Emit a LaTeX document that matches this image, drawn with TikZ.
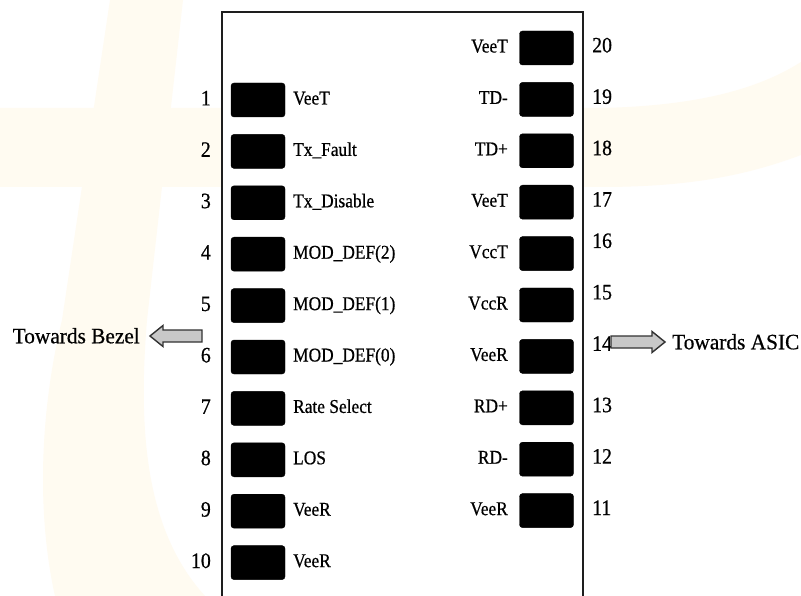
\documentclass[tikz,border=0pt]{standalone}
\usepackage{fontspec}
\setmainfont{Liberation Serif}
\newfontfamily\lblfont[FakeStretch=0.89,FakeBold=0.6]{Liberation Serif}
\newfontfamily\numfont[FakeStretch=0.9,FakeBold=0.6]{Liberation Serif}
\newfontfamily\arrfont[FakeStretch=0.97,FakeBold=0.6]{Liberation Serif}
\definecolor{wm}{RGB}{255,251,241}
\definecolor{boxline}{RGB}{30,30,30}
\definecolor{arrfill}{RGB}{200,200,200}
\definecolor{arrline}{RGB}{50,50,50}
\tikzset{
  pad/.style={fill=black, draw=black, rounded corners=3pt, minimum width=54pt, minimum height=34pt, inner sep=0pt},
  lbl/.style={font=\lblfont\fontsize{19.5}{20}\selectfont, inner sep=0pt},
  num/.style={font=\numfont\fontsize{22}{22}\selectfont, inner sep=0pt},
  arrtxt/.style={font=\arrfont\fontsize{22}{22}\selectfont, inner sep=0pt},
  blockarrow/.style={fill=arrfill, draw=arrline, line width=1.4pt, line join=miter},
  chipbox/.style={draw=boxline, line width=2pt}
}
\begin{document}
\begin{tikzpicture}[x=1pt,y=-1pt]
\useasboundingbox (0,0) rectangle (801,596);
\fill[white] (0,0) rectangle (801,596);
% watermark
\fill[wm] (0,108) -- (600,108) .. controls (700,106) and (760,88) .. (801,62)
  -- (801,155) .. controls (740,178) and (680,187) .. (600,187) -- (0,187) -- cycle;
\fill[wm] (110,0) -- (183,0) -- (147,320) .. controls (138,430) and (145,530) .. (205,596)
  -- (55,596) .. controls (38,520) and (38,420) .. (62,320) -- cycle;
% chip outline (open at the bottom)
\fill[white] (222,12) rectangle (583,596);
\draw[chipbox] (222,597) -- (222,12) -- (583,12) -- (583,597);
% left pads
\foreach \i/\t in {1/VeeT, 2/Tx\_Fault, 3/Tx\_Disable, 4/MOD\_DEF(2), 5/MOD\_DEF(1),
                   6/MOD\_DEF(0), 7/Rate Select, 8/LOS, 9/VeeR, 10/VeeR}{
  \pgfmathsetmacro{\yy}{100+51.4*(\i-1)}
  \node[pad] (L\i) at (258,\yy) {};
  \node[lbl, anchor=base west] (LT\i) at (293,\yy+4.5) {\t};
  \node[num, anchor=base east] (LN\i) at (211,\yy+5.4) {\i};
}
% right pads
\foreach \i/\t/\o in {20/VeeT/4.4, 19/TD-/4.4, 18/TD+/4.4, 17/VeeT/4.4, 16/VccT/-5.6,
                      15/VccR/-5.6, 14/VeeR/-5.6, 13/RD+/4.4, 12/RD-/4.4, 11/VeeR/4.4}{
  \pgfmathsetmacro{\yy}{48+51.4*(20-\i)}
  \node[pad] (R\i) at (546.5,\yy) {};
  \node[lbl, anchor=base east] (RT\i) at (508,\yy+4.5) {\t};
  \node[num, anchor=base west] (RN\i) at (592,\yy+\o) {\i};
}
% arrows
\node[arrtxt, anchor=base west] (bezel) at (12.5,343.3) {Towards Bezel};
\coordinate (bzt) at (202,336);
\draw[blockarrow] (bzt) ++(0,-6) -- ++(-39,0) -- ++(0,-4.5) -- ++(-13,10.5)
  -- ++(13,10.5) -- ++(0,-4.5) -- ++(39,0) -- cycle;
\node[arrtxt, anchor=base west] (asic) at (672,349.3) {Towards ASIC};
\coordinate (ast) at (611,342);
\draw[blockarrow] (ast) ++(0,-6) -- ++(41,0) -- ++(0,-4.5) -- ++(13,10.5)
  -- ++(-13,10.5) -- ++(0,-4.5) -- ++(-41,0) -- cycle;
\end{tikzpicture}
\end{document}
